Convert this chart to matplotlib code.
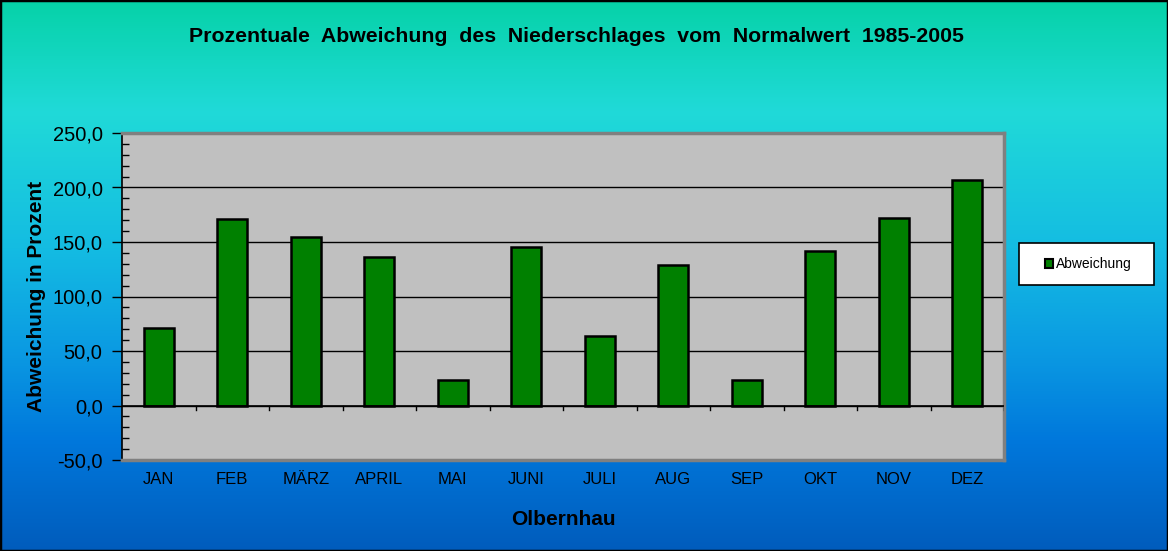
"""Prozentuale Abweichung des Niederschlages vom Normalwert 1985-2005 (Olbernhau)."""

import matplotlib

matplotlib.use("Agg")
import matplotlib.pyplot as plt
import numpy as np
from matplotlib.colors import LinearSegmentedColormap
from matplotlib.patches import Patch, Rectangle
from matplotlib.ticker import FuncFormatter, MultipleLocator

plt.rcParams["font.family"] = ["Liberation Sans", "DejaVu Sans"]

months = ["JAN", "FEB", "MÄRZ", "APRIL", "MAI", "JUNI", "JULI", "AUG", "SEP", "OKT", "NOV", "DEZ"]
abweichung = [71.0, 171.5, 155.0, 136.5, 23.0, 145.0, 64.0, 129.0, 23.0, 142.0, 172.0, 207.0]
y_ticks = [-50, 0, 50, 100, 150, 200, 250]

W, H = 1168, 551
fig = plt.figure(figsize=(W / 100, H / 100), dpi=100)

# background gradient (teal at top -> cyan -> blue at bottom)
bg = fig.add_axes([0, 0, 1, 1], zorder=-10)
cmap = LinearSegmentedColormap.from_list(
    "bg",
    [(0.0, "#06d2a8"), (0.2, "#20dad8"), (0.45, "#14bce2"),
     (0.65, "#0a98e2"), (0.8, "#0078dc"), (1.0, "#005cbc")],
)
bg.imshow(np.linspace(0, 1, 256).reshape(-1, 1), aspect="auto", cmap=cmap,
          extent=[0, 1, 0, 1], origin="upper")
bg.set_axis_off()
fig.patches.append(Rectangle((0, 0), 1, 1, transform=fig.transFigure, fill=False,
                             edgecolor="black", lw=2.5, zorder=20))

ax = fig.add_axes([122 / W, (H - 460) / H, 882 / W, 327 / H])
ax.set_facecolor("#c0c0c0")
x = np.arange(len(months))
ax.bar(x, abweichung, width=0.41, color="#008000", edgecolor="black", lw=1.8,
       zorder=3, label="Abweichung")

ax.set_xlim(-0.5, len(months) - 0.5)
ax.set_ylim(-50, 250)
ax.set_yticks(y_ticks)
ax.yaxis.set_major_formatter(FuncFormatter(lambda v, p: f"{v:.1f}".replace(".", ",")))
ax.yaxis.set_minor_locator(MultipleLocator(10))
ax.tick_params(axis="y", which="major", direction="out", length=7, width=1, labelsize=14.5, pad=7)
ax.tick_params(axis="y", which="minor", direction="in", length=5, width=1)
ax.grid(axis="y", color="black", lw=1, zorder=1)

# category axis at zero with ticks between categories
ax.set_xticks(x)
ax.set_xticklabels(months, fontsize=12)
ax.tick_params(axis="x", length=0, pad=9)
ax.axhline(0, color="black", lw=1.2, zorder=4)
for b in np.arange(0.5, len(months) - 0.4, 1.0):
    ax.plot([b, b], [0, -4], color="black", lw=1, zorder=4)

for side in ("top", "right", "bottom"):
    ax.spines[side].set_color("#808080")
    ax.spines[side].set_linewidth(2.5)
ax.spines["left"].set_color("black")
ax.spines["left"].set_linewidth(1.2)

ax.set_ylabel("Abweichung in Prozent", fontsize=15, fontweight="bold", labelpad=5)
ax.set_xlabel("Olbernhau", fontsize=15, fontweight="bold", labelpad=16)
fig.text(576 / W, 1 - 36 / H,
         "Prozentuale  Abweichung  des  Niederschlages  vom  Normalwert  1985-2005",
         ha="center", va="center", fontsize=15.3, fontweight="bold")

# legend box
fig.patches.append(Rectangle((1019 / W, 1 - 285 / H), 135 / W, 42 / H, transform=fig.transFigure,
                             facecolor="white", edgecolor="black", lw=1.2, zorder=5))
leg = fig.legend(handles=[Patch(facecolor="#008000", edgecolor="black", lw=1.5, label="Abweichung")],
                 loc="center", bbox_to_anchor=(1088 / W, 1 - 264 / H), frameon=False,
                 fontsize=10, handlelength=0.6, handleheight=0.6, handletextpad=0.2)
leg.set_zorder(6)

fig.savefig("out.png", dpi=100)
